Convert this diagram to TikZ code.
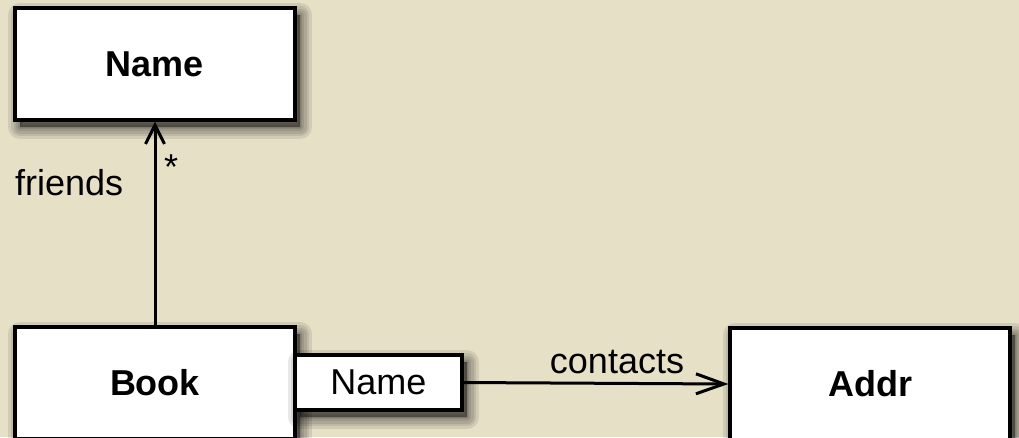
\documentclass[tikz,border=0pt]{standalone}
\usepackage{fontspec}
\setmainfont{Liberation Sans}
\usetikzlibrary{arrows.meta}

\definecolor{parchment}{RGB}{230,224,199}

\tikzset{
  % one soft band of the drop shadow, offset down and to the right
  shadowband/.style={preaction={draw=black, fill=black, draw opacity=0.09,
      fill opacity=0.09, line width=#1, line join=round,
      transform canvas={xshift=5pt, yshift=-7pt}}},
  softshadow/.style={shadowband=24pt, shadowband=18pt, shadowband=13pt,
      shadowband=8pt, shadowband=4pt, shadowband=1pt},
  classbox/.style={draw=black, fill=white, line width=3.2pt,
    minimum width=280pt, minimum height=112pt, inner sep=0pt,
    font=\fontsize{36}{43}\bfseries, softshadow},
  qualbox/.style={draw=black, fill=white, line width=3.2pt,
    minimum width=167pt, minimum height=55pt, inner sep=0pt,
    font=\fontsize{36}{43}\selectfont, softshadow},
  assoc/.style={draw=black, line width=3pt},
  rolelabel/.style={font=\fontsize{36}{43}\selectfont, inner sep=0pt}
}

\begin{document}
\begin{tikzpicture}[x=1pt, y=-1pt]
  \useasboundingbox (0,0) rectangle (1019,437);
  \fill[parchment] (0,0) rectangle (1019,437);
  \clip (0,0) rectangle (1019,437);

  % classes
  \node[classbox] (name) at (155,64) {Name};
  \node[classbox] (addr) at (870,384) {Addr};
  \node[classbox] (book) at (155,383) {Book};

  % qualifier attached to Book
  \node[qualbox] (qual) at (378.5,382.5) {Name};

  % associations
  \draw[assoc, -{Straight Barb[length=19pt, width=19pt]}] (book.north) -- (name.south);
  \draw[assoc, -{Straight Barb[length=28pt, width=20pt]}] (qual.east) -- (addr.west);

  % role names and multiplicity
  \node[rolelabel, anchor=base west] (friendslbl) at (15,195) {friends};
  \node[rolelabel, anchor=north west] (multlbl) at (164,155) {*};
  \node[rolelabel, anchor=base] (contactslbl) at (617,373) {contacts};
\end{tikzpicture}
\end{document}
